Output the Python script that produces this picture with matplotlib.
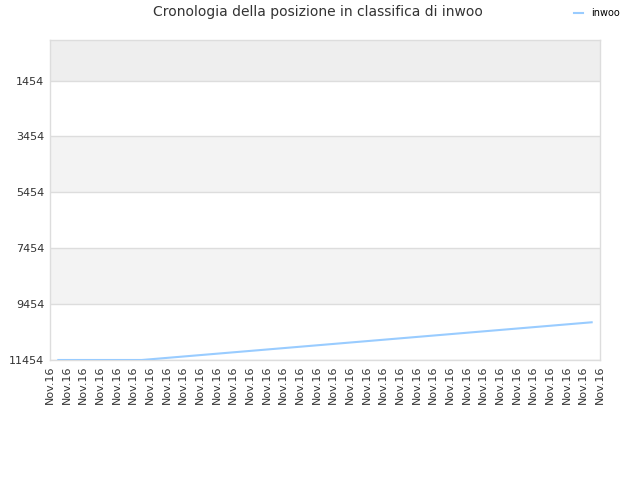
import matplotlib
matplotlib.use("Agg")
import matplotlib.pyplot as plt

# data
x_labels = ["Nov.16"] * 34
rank_pos = [0.5, 1.5, 2.5, 3.5, 4.5, 5.5, 6.5, 7.5, 8.5, 9.5, 10.5,
            11.5, 12.5, 13.5, 14.5, 15.5, 16.5, 17.5, 18.5, 19.5, 20.5,
            21.5, 22.5, 23.5, 24.5, 25.5, 26.5, 27.5, 28.5, 29.5, 30.5,
            31.5, 32.5]
rank = [11454, 11454, 11454, 11454, 11454, 11454, 11404, 11354, 11304,
        11254, 11204, 11154, 11104, 11054, 11004, 10954, 10904, 10854,
        10804, 10754, 10704, 10654, 10604, 10554, 10504, 10454, 10404,
        10354, 10304, 10254, 10204, 10154, 10104]
y_ticks = [1454, 3454, 5454, 7454, 9454, 11454]

fig = plt.figure(figsize=(6.4, 4.8), dpi=100)
ax = fig.add_axes([50/640, 120/480, 550/640, 320/480])

# alternating bands
ax.axhspan(0, 1454, color='#eeeeee', zorder=0, lw=0)
ax.axhspan(3454, 5454, color='#f3f3f3', zorder=0, lw=0)
ax.axhspan(7454, 9454, color='#f3f3f3', zorder=0, lw=0)
for t in y_ticks:
    ax.axhline(t, color='#dddddd', lw=1, zorder=1)

ax.plot(rank_pos, rank, color='#99ccff', lw=1.5, zorder=3, label='inwoo')

ax.set_xlim(0, 33)
ax.set_ylim(11454, 0)
ax.set_yticks(y_ticks)
ax.set_yticklabels([str(t) for t in y_ticks])
ax.set_xticks(range(len(x_labels)))
ax.set_xticklabels(x_labels, rotation=90)
ax.tick_params(axis='both', length=0, labelsize=8, colors='#333333', pad=4)

for s in ax.spines.values():
    s.set_color('#dddddd')
    s.set_linewidth(1)

fig.suptitle("Cronologia della posizione in classifica di inwoo",
             x=318/640, y=1 - 12/480, va='center', fontsize=10, color='#333333')

fig.legend(loc='center left', bbox_to_anchor=(565/640, 1 - 13/480),
           frameon=False, fontsize=7, handlelength=1.0, handletextpad=0.8)

fig.savefig("out.png", dpi=100)
